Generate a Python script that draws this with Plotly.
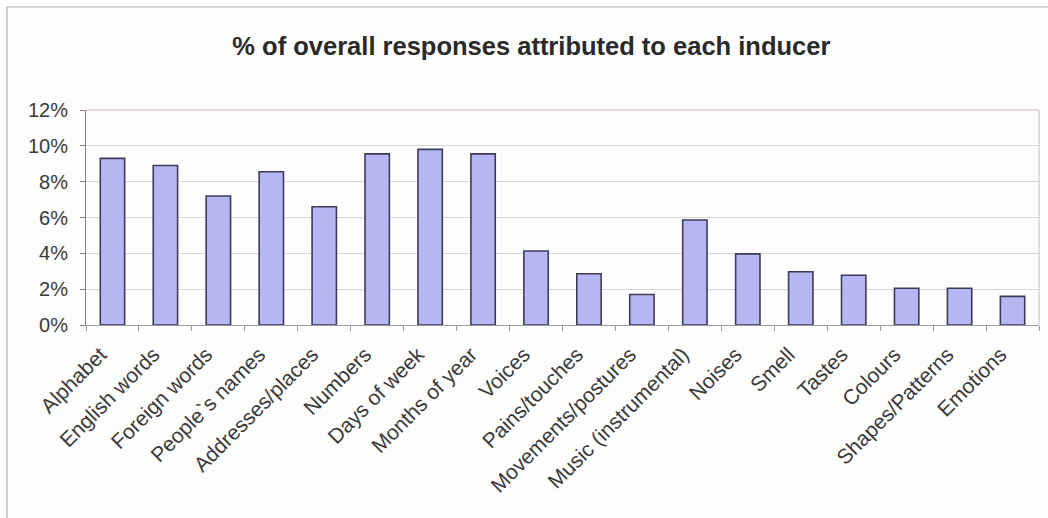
import plotly.graph_objects as go

categories = [
    "Alphabet", "English words", "Foreign words", "People`s names",
    "Addresses/places", "Numbers", "Days of week", "Months of year",
    "Voices", "Pains/touches", "Movements/postures", "Music (instrumental)",
    "Noises", "Smell", "Tastes", "Colours", "Shapes/Patterns", "Emotions",
]
share_pct = [
    9.3, 8.9, 7.2, 8.55, 6.6, 9.55, 9.8, 9.55,
    4.13, 2.86, 1.7, 5.86, 3.97, 2.97, 2.78, 2.05, 2.05, 1.6,
]
y_ticks = [0, 2, 4, 6, 8, 10, 12]
y_tick_labels = ["0%", "2%", "4%", "6%", "8%", "10%", "12%"]

FONT = "Liberation Sans, Arial, sans-serif"

fig = go.Figure(
    go.Bar(
        x=categories,
        y=share_pct,
        marker=dict(color="#b6b6f2", line=dict(color="#3c3c58", width=1.6)),
        width=0.46,
    )
)

fig.update_layout(
    width=1048,
    height=518,
    margin=dict(l=86, r=9, t=110, b=193),
    paper_bgcolor="#fdfdfd",
    plot_bgcolor="#fdfdfd",
    showlegend=False,
    title=dict(
        text="<b>% of overall responses attributed to each inducer</b>",
        x=0.507,
        xanchor="center",
        y=1 - 46 / 518,
        yanchor="middle",
        font=dict(family=FONT, size=25.5, color="#2a2a2a"),
    ),
    font=dict(family=FONT, color="#333333"),
)

fig.update_xaxes(
    type="category",
    tickangle=-45,
    tickfont=dict(size=21, color="#3a3a3a"),
    ticklabelshift=-12,
    ticklabelstandoff=8,
    showgrid=False,
    showline=True,
    linecolor="#9a9a9a",
    linewidth=1,
    ticks="outside",
    ticklen=5,
    tickcolor="#9a9a9a",
    tickson="boundaries",
    mirror=False,
)

fig.update_yaxes(
    range=[0, 12],
    tickvals=y_ticks,
    ticktext=y_tick_labels,
    tickfont=dict(size=20, color="#3a3a3a"),
    ticklabelstandoff=8,
    showgrid=True,
    gridcolor="#d6d6d6",
    gridwidth=1,
    showline=True,
    linecolor="#8a7a88",
    linewidth=1,
    ticks="outside",
    ticklen=5,
    tickcolor="#8a7a88",
    zeroline=False,
)

# plot-area frame: pinkish top and right edges
fig.add_shape(type="line", xref="paper", yref="paper", x0=0, x1=1, y0=1, y1=1,
              line=dict(color="#d4b0b8", width=1))
fig.add_shape(type="line", xref="paper", yref="paper", x0=1, x1=1, y0=0, y1=1,
              line=dict(color="#c8b8bc", width=1))

# outer chart-area border (left and top edges)
fig.add_shape(type="line", xref="paper", yref="paper",
              x0=-79 / 953, x1=1 + 9 / 953, y0=1 + 103 / 215, y1=1 + 103 / 215,
              line=dict(color="#b0b0b0", width=1.2))
fig.add_shape(type="line", xref="paper", yref="paper",
              x0=-79 / 953, x1=-79 / 953, y0=1 + 103 / 215, y1=-193 / 215,
              line=dict(color="#b0b0b0", width=1.2))

fig.write_html("out.html")
